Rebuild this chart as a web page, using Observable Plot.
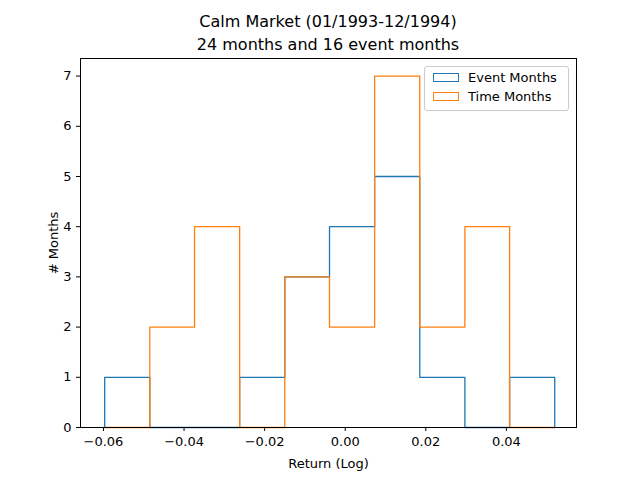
<!DOCTYPE html>
<html>
<head>
<meta charset="utf-8">
<script src="https://cdn.jsdelivr.net/npm/d3@7"></script>
<script src="https://cdn.jsdelivr.net/npm/@observablehq/plot@0.6"></script>
<style>
  body { margin: 0; background: #fff; font-family: "DejaVu Sans", sans-serif; }
  #wrap { position: relative; width: 640px; height: 480px; }
  #title { position: absolute; top: 10px; left: 0; width: 656px; text-align: center; font-size: 16px; line-height: 23px; }
  #legend { position: absolute; left: 424px; top: 66px; width: 143px; height: 43px; border: 1px solid #ccc; border-radius: 3px; background: rgba(255,255,255,0.8); font-size: 13px; }
  .item { position: absolute; left: 8px; display: flex; align-items: center; }
  .sw { width: 26px; height: 9px; border: 1.3px solid; margin-right: 9px; box-sizing: border-box; }
</style>
</head>
<body>
<div id="wrap">
  <div id="chart"></div>
  <div id="title">Calm Market (01/1993-12/1994)<br>24 months and 16 event months</div>
  <div id="legend">
    <div class="item" style="top:3px"><span class="sw" style="border-color:#1f77b4"></span>Event Months</div>
    <div class="item" style="top:22px"><span class="sw" style="border-color:#ff7f0e"></span>Time Months</div>
  </div>
</div>
<script>
const edges = [-0.0597, -0.0485, -0.0374, -0.0262, -0.0150, -0.0039, 0.0073, 0.0185, 0.0297, 0.0408, 0.0520];
const eventCounts = [1, 0, 0, 1, 3, 4, 5, 1, 0, 1];
const timeCounts = [0, 2, 4, 0, 3, 2, 7, 2, 4, 0];

function stepOutline(counts, series) {
  const pts = [{x: edges[0], y: 0, series}];
  counts.forEach((c, i) => {
    pts.push({x: edges[i], y: c, series});
    pts.push({x: edges[i + 1], y: c, series});
  });
  pts.push({x: edges[edges.length - 1], y: 0, series});
  return pts;
}

const chart = Plot.plot({
  width: 640,
  height: 480,
  marginTop: 58,
  marginBottom: 53,
  marginLeft: 80,
  marginRight: 64,
  style: { fontFamily: "DejaVu Sans, sans-serif", fontSize: "13px", color: "#000" },
  x: {
    domain: [-0.0657, 0.0574],
    ticks: [-0.06, -0.04, -0.02, 0, 0.02, 0.04],
    tickFormat: d => d3.format(".2f")(d).replace("-", "−"),
    label: "Return (Log)",
    labelAnchor: "center",
    labelArrow: "none",
    labelOffset: 40,
    tickSize: 4
  },
  y: {
    domain: [0, 7.35],
    ticks: d3.range(0, 8),
    label: "# Months",
    labelAnchor: "center",
    labelArrow: "none",
    labelOffset: 32,
    tickSize: 4
  },
  marks: [
    Plot.line(stepOutline(eventCounts, "Event"), {x: "x", y: "y", stroke: "#1f77b4", strokeWidth: 1.3}),
    Plot.line(stepOutline(timeCounts, "Time"), {x: "x", y: "y", stroke: "#ff7f0e", strokeWidth: 1.3}),
    Plot.frame({stroke: "#000", strokeWidth: 1})
  ]
});
d3.select("#chart").append(() => chart);
</script>
</body>
</html>
